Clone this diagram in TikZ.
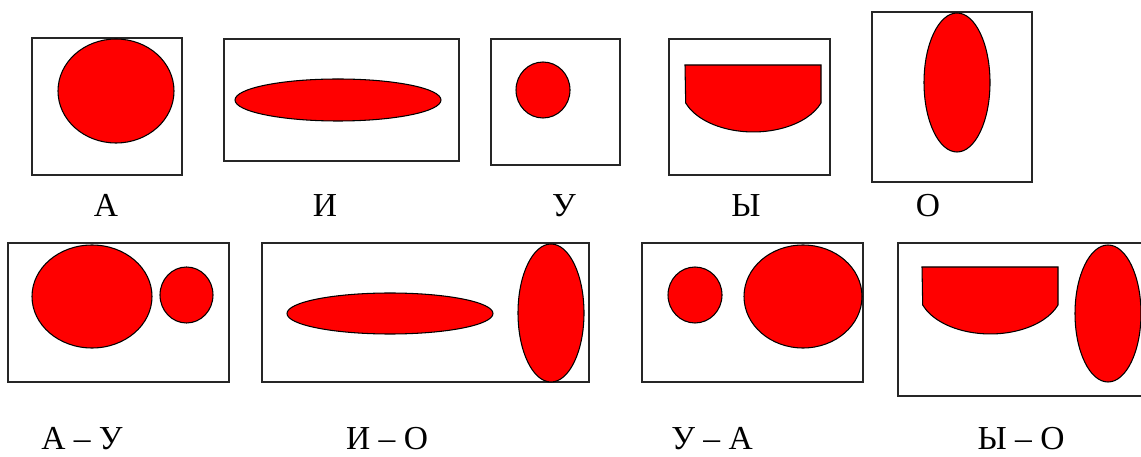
\documentclass[tikz,border=0pt]{standalone}
\usepackage{fontspec}
\setmainfont{Liberation Serif}
\tikzset{
  frame/.style ={draw=black!85, line width=1.1pt},
  blob/.style  ={fill=red, draw=black, line width=0.6pt},
  vowel/.style ={anchor=base, inner sep=0pt, font=\fontsize{19}{22}\selectfont},
}
% lip shape of Y: flat top, short sides, rounded bottom
\newcommand{\bowl}[2]{%
  \draw[blob] (#1,#2) -- ++(136,0) -- ++(0,-38)
    arc[start angle=-20, end angle=-160, x radius=72, y radius=44] -- cycle;}

\begin{document}
\begin{tikzpicture}[x=1pt, y=1pt, scale=0.5669]
  \useasboundingbox (0,0) rectangle (1141,-457);
  \clip (0,0) rectangle (1141,-457);

  % single vowels
  \draw[frame] (32,-38) rectangle (182,-175);
  \draw[blob] (116,-91) ellipse [x radius=58, y radius=52];

  \draw[frame] (224,-39) rectangle (459,-161);
  \draw[blob] (338,-100) ellipse [x radius=103, y radius=21];

  \draw[frame] (491,-39) rectangle (620,-165);
  \draw[blob] (543,-90) ellipse [x radius=27, y radius=28];

  \draw[frame] (669,-39) rectangle (830,-175);
  \bowl{685}{-65}

  \draw[frame] (872,-12) rectangle (1032,-182);
  \draw[blob] (957,-82.5) ellipse [x radius=33, y radius=69.5];

  \node[vowel] (lA) at (106,-217) {А};
  \node[vowel] (lI) at (325,-217) {И};
  \node[vowel] (lU) at (564,-217) {У};
  \node[vowel] (lY) at (746,-217) {Ы};
  \node[vowel] (lO) at (928,-217) {О};

  % transitions
  \draw[frame] (8,-243) rectangle (229,-382);
  \draw[blob] (92,-296.5) ellipse [x radius=60, y radius=51.5];
  \draw[blob] (186.5,-295) ellipse [x radius=26.5, y radius=28];

  \draw[frame] (262,-243) rectangle (589,-382);
  \draw[blob] (390,-313.5) ellipse [x radius=103, y radius=20.5];
  \draw[blob] (551,-313) ellipse [x radius=33, y radius=69];

  \draw[frame] (642,-243) rectangle (863,-382);
  \draw[blob] (695,-295) ellipse [x radius=27, y radius=28];
  \draw[blob] (803,-296.5) ellipse [x radius=59, y radius=51.5];

  \draw[frame] (898,-243) rectangle (1150,-396);
  \bowl{922}{-267}
  \draw[blob] (1108,-313.5) ellipse [x radius=33, y radius=68.5];

  \node[vowel] (lAU) at (82,-449)   {А – У};
  \node[vowel] (lIO) at (387,-449)  {И – О};
  \node[vowel] (lUA) at (712,-449)  {У – А};
  \node[vowel] (lYO) at (1021,-449) {Ы – О};
\end{tikzpicture}
\end{document}
